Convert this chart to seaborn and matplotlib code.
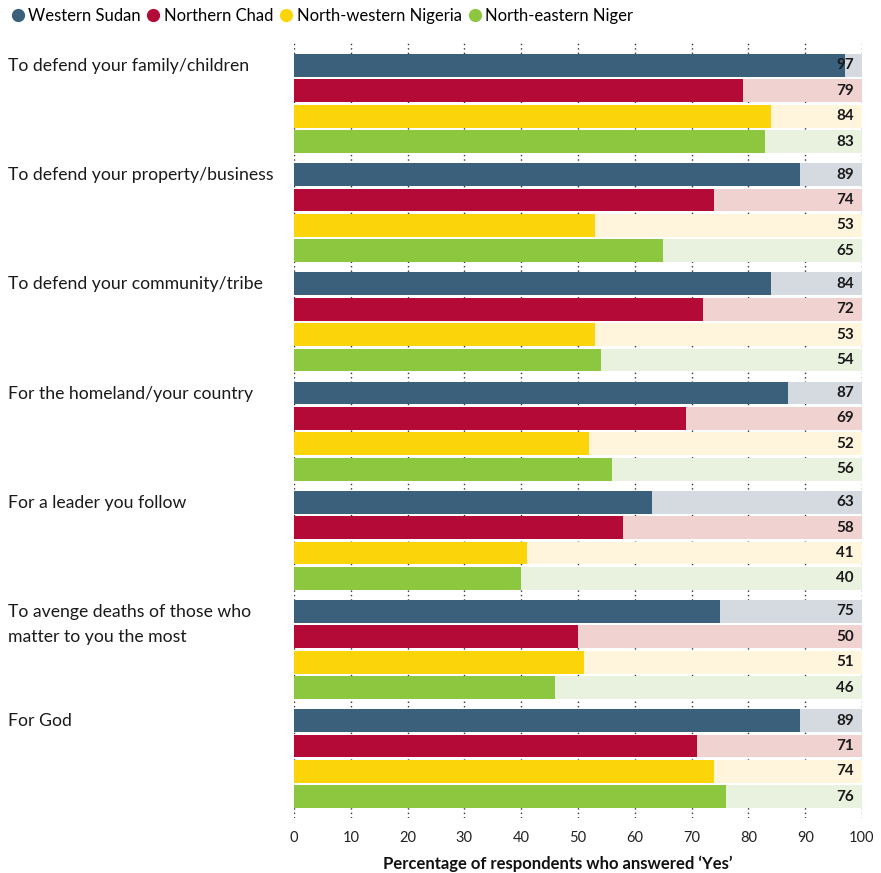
import numpy as np
import pandas as pd
import matplotlib.pyplot as plt
import matplotlib.transforms as mtransforms
from matplotlib.lines import Line2D
import seaborn as sns

# --- data ---
reasons = [
    "To defend your family/children",
    "To defend your property/business",
    "To defend your community/tribe",
    "For the homeland/your country",
    "For a leader you follow",
    "To avenge deaths of those who\nmatter to you the most",
    "For God",
]
regions = ["Western Sudan", "Northern Chad", "North-western Nigeria", "North-eastern Niger"]

western_sudan = [97, 89, 84, 87, 63, 75, 89]
northern_chad = [79, 74, 72, 69, 58, 50, 71]
nw_nigeria = [84, 53, 53, 52, 41, 51, 74]
ne_niger = [83, 65, 54, 56, 40, 46, 76]

colors = ["#3a607c", "#b40a38", "#fcd40a", "#8dc63f"]
light_colors = ["#d5d9e0", "#f0d2d0", "#fff5dc", "#e8f2de"]

# long format table for seaborn
rows = []
for region, vals in zip(regions, [western_sudan, northern_chad, nw_nigeria, ne_niger]):
    for reason, v in zip(reasons, vals):
        rows.append({"reason": reason, "region": region, "value": v, "full": 100})
df = pd.DataFrame(rows)

plt.rcParams["font.family"] = ["Lato", "DejaVu Sans"]
fig = plt.figure(figsize=(8.81, 8.73), dpi=100)
ax = fig.add_axes([294 / 881, 1 - 818 / 873, 568 / 881, 776 / 873])

WIDTH, GAP = 0.93, 0.1
common = dict(y="reason", hue="region", order=reasons, hue_order=regions,
              orient="y", width=WIDTH, gap=GAP, legend=False, ax=ax,
              saturation=1, linewidth=0, errorbar=None)
# light background bars to 100
sns.barplot(data=df, x="full", palette=light_colors, zorder=2, **common)
# actual values
sns.barplot(data=df, x="value", palette=colors, zorder=3, **common)

# dotted vertical grid, only visible between groups
for xv in range(0, 101, 10):
    ax.axvline(xv, color="#333333", lw=1.0, ls=(0, (1, 2.2)), zorder=1)

ax.set_xlim(0, 100)
ax.set_ylim(6.543, -0.563)
ax.set_xticks(range(0, 101, 10))
ax.tick_params(axis="x", length=0, labelsize=10.5, pad=9, colors="#222222")
ax.set_yticks([])
ax.set_ylabel("")
ax.set_xlabel("Percentage of respondents who answered \u2018Yes\u2019",
              fontsize=12, fontweight="bold", color="#111111")
ax.xaxis.set_label_coords(0.465, -0.049)
for s in ax.spines.values():
    s.set_visible(False)

# value labels at the right end of each row
step = WIDTH / len(regions)
for j, vals in enumerate([western_sudan, northern_chad, nw_nigeria, ne_niger]):
    off = (j - 1.5) * step
    for i, v in enumerate(vals):
        ax.text(98.6, i + off, str(v), ha="right", va="center",
                fontsize=11, fontweight="bold", color="#1a1a1a", zorder=4)

# category labels aligned with the first bar of each group
trans = mtransforms.blended_transform_factory(fig.transFigure, ax.transData)
trans = trans + mtransforms.ScaledTranslation(0, 0.075, fig.dpi_scale_trans)
for i, r in enumerate(reasons):
    fig.text(8 / 881, i - 1.5 * step, r, transform=trans, ha="left", va="top",
             fontsize=12.7, color="#1a1a1a", linespacing=1.7)

# legend with round markers
handles = [Line2D([], [], marker="o", ls="", markersize=8.5, color=c) for c in colors]
fig.legend(handles, regions, loc="upper left", bbox_to_anchor=(0.0, 1.002),
           ncol=4, frameon=False, fontsize=12.0, handletextpad=0.2,
           columnspacing=0.3, handlelength=0.9, borderaxespad=0.2)

fig.savefig("out.png", dpi=100)
